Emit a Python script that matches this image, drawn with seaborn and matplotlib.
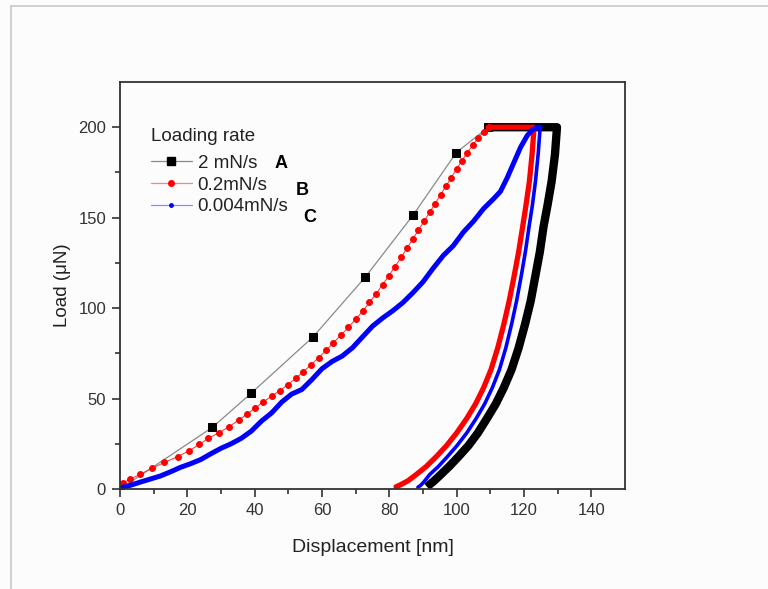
import numpy as np
import pandas as pd
import matplotlib
matplotlib.use("Agg")
import matplotlib.pyplot as plt
from matplotlib.lines import Line2D
import seaborn as sns

# ---------------- data ----------------
labels = ["2 mN/s", "0.2mN/s", "0.004mN/s"]
letters = ["A", "B", "C"]
legend_title = "Loading rate"

# A : 2 mN/s
a_load_x = [0, 27.4, 39.0, 57.3, 72.8, 87.1, 99.9, 109.4]
a_load_y = [0, 34.0, 53.0, 84.0, 117.0, 151.5, 186.0, 200.0]
a_unload_x = [109.4, 115, 120, 125, 129.8, 129.2, 128.2, 127.0, 125.8, 124.7, 123.4, 122.0,
              120.3, 118.4, 116.3, 114.0, 111.6, 109.0, 106.3, 103.5, 100.6, 97.8,
              95.3, 93.3, 92.0, 91.2]
a_unload_y = [200, 200, 200, 200, 200, 185, 170, 157, 145, 131, 118, 104,
              91, 78, 66, 56, 47, 39, 31, 24, 18, 12.5,
              8, 4.5, 2.5, 1.2]

# B : 0.2 mN/s
b_load_x = [0, 1, 3, 6, 9.4, 13.2, 17.1, 20.6, 23.6, 26.2, 29.4, 32.4, 35.2, 37.7, 40.0,
            42.6, 45.0, 47.4, 49.8, 52.2, 54.5, 56.8, 59.0, 61.2, 63.4, 65.6, 67.8, 70.0,
            72.1, 74.1, 76.1, 78.0, 79.9, 81.7, 83.5, 85.2, 86.9, 88.6, 90.3, 92.0, 93.6,
            95.2, 96.8, 98.4, 100.0, 101.6, 103.2, 104.8, 106.4, 108.0, 109.5]
b_load_y = [3.0, 3.5, 5.4, 8.1, 11.4, 14.7, 17.9, 21.2, 24.7, 28.0, 31.1, 34.4, 38.1, 41.3, 44.6,
            48.2, 51.3, 54.3, 57.6, 61.2, 64.9, 68.7, 72.6, 76.6, 80.8, 85.0, 89.3, 93.8,
            98.4, 103.2, 108.0, 113.0, 118.0, 123.0, 128.0, 133.0, 138.0, 143.0, 148.0, 153.0, 157.8,
            162.6, 167.4, 172.2, 177.0, 181.6, 186.0, 190.2, 194.0, 197.5, 200.0]
b_unload_x = [109.5, 115, 120, 123.0, 122.4, 121.6, 120.6, 119.6, 118.4, 117.1, 115.6, 114.0,
              112.2, 110.2, 108.0, 105.6, 103.0, 100.0, 97.0, 94.0, 91.0, 88.0, 85.5,
              83.5, 82.0]
b_unload_y = [200, 200, 200, 200, 185, 170, 157, 145, 131, 118, 104, 91,
              78, 66, 56, 47, 39, 31, 24, 18, 12.5, 8, 4.5,
              2.5, 1.2]

# C : 0.004 mN/s
c_load_x = [0, 3, 6, 9, 12, 15, 18, 21, 24, 27, 30, 33, 36, 39, 42, 45, 48, 51, 54, 57,
            60, 63, 66, 69, 72, 75, 78, 81, 84, 87, 90, 93, 96, 99, 102, 105, 108, 111,
            113, 115, 117, 119, 121, 122.5, 124.0, 124.8]
c_load_y = [0.5, 2.0, 3.8, 5.5, 7.2, 9.5, 12.0, 14.0, 16.3, 19.5, 22.5, 25.0, 28.0, 32.0,
            37.5, 42.0, 48.0, 52.5, 55.0, 60.5, 66.5, 70.5, 73.5, 78.0, 84.0, 90.0, 94.5,
            98.5, 103.0, 108.5, 114.5, 122.0, 129.0, 134.5, 142.0, 148.0, 155.0, 160.5,
            164.5, 172.0, 180.5, 189.0, 195.5, 198.5, 200.0, 200.0]
c_unload_x = [124.8, 124.2, 123.4, 122.5, 121.5, 120.4, 119.2, 117.8, 116.3, 114.6, 112.7,
              110.6, 108.3, 105.8, 103.0, 100.1, 97.3, 94.6, 92.0, 90.3, 89.3, 88.5]
c_unload_y = [200, 185, 170, 157, 145, 131, 118, 104, 91, 78, 66,
              56, 47, 39, 31, 24, 18, 12.5, 8, 4.0, 2.0, 1.0]

x_ticks = [0, 20, 40, 60, 80, 100, 120, 140]
y_ticks = [0, 50, 100, 150, 200]

# ---------------- style ----------------
sns.set_theme(style="ticks")
plt.rcParams["font.family"] = ["Liberation Sans", "DejaVu Sans"]
plt.rcParams["axes.edgecolor"] = "#333333"
plt.rcParams["xtick.color"] = "#333333"
plt.rcParams["ytick.color"] = "#333333"
plt.rcParams["text.color"] = "#222222"
plt.rcParams["axes.labelcolor"] = "#222222"

bg = "#fcfcfc"
fig = plt.figure(figsize=(7.68, 5.89), dpi=100, facecolor=bg)
ax = fig.add_axes([120 / 768, 1 - 489 / 589, 505 / 768, 407 / 589])
ax.set_facecolor(bg)

# screenshot frame lines
fig.add_artist(Line2D([10.5 / 768, 10.5 / 768], [0, 1 - 6 / 589], transform=fig.transFigure,
                      color="#c8c8c8", lw=1.2))
fig.add_artist(Line2D([10.5 / 768, 1], [1 - 6 / 589, 1 - 6 / 589], transform=fig.transFigure,
                      color="#c8c8c8", lw=1.2))

# A
sns.lineplot(x=a_unload_x, y=a_unload_y, ax=ax, sort=False, estimator=None,
             color="black", lw=6.0, solid_capstyle="butt", legend=False)
sns.lineplot(x=a_load_x, y=a_load_y, ax=ax, sort=False, estimator=None,
             color="#8a8a8a", lw=0.9, marker="s", markersize=6, markerfacecolor="black",
             markeredgecolor="black", legend=False)
# B
sns.lineplot(x=b_unload_x, y=b_unload_y, ax=ax, sort=False, estimator=None,
             color="#ff0000", lw=3.8, legend=False)
sns.lineplot(x=b_load_x, y=b_load_y, ax=ax, sort=False, estimator=None,
             color="#ff3030", lw=0.7, marker="o", markersize=4.2, markerfacecolor="#ff0000",
             markeredgecolor="#ff0000", legend=False)
# C
sns.lineplot(x=c_load_x, y=c_load_y, ax=ax, sort=False, estimator=None,
             color="#0000ff", lw=3.6, legend=False)
sns.lineplot(x=c_unload_x, y=c_unload_y, ax=ax, sort=False, estimator=None,
             color="#0000ff", lw=2.6, legend=False)

ax.set_xlim(0, 150)
ax.set_ylim(0, 225)
ax.set_xticks(x_ticks)
ax.set_yticks(y_ticks)
ax.set_xticks(np.arange(10, 150, 20), minor=True)
ax.set_yticks(np.arange(25, 225, 50), minor=True)
ax.tick_params(axis="both", which="major", direction="out", length=6, width=1.2,
               labelsize=12, top=False, right=False, pad=4)
ax.tick_params(axis="both", which="minor", direction="out", length=3.5, width=1.2,
               top=False, right=False)
for s in ax.spines.values():
    s.set_visible(True)
    s.set_linewidth(1.3)
    s.set_color("#333333")

ax.set_xlabel("Displacement [nm]", fontsize=14, labelpad=15)
ax.set_ylabel("Load (μN)", fontsize=13.5, labelpad=5)

# legend
handles = [
    Line2D([], [], color="#8a8a8a", lw=0.9, marker="s", markersize=6,
           markerfacecolor="black", markeredgecolor="black"),
    Line2D([], [], color="#f08a8a", lw=0.9, marker="o", markersize=4,
           markerfacecolor="#ff0000", markeredgecolor="#ff0000"),
    Line2D([], [], color="#8a8aff", lw=0.9, marker="o", markersize=2.5,
           markerfacecolor="#0000ff", markeredgecolor="#0000ff"),
]
ax.text(0.061, (489 - 141) / 407, legend_title, transform=ax.transAxes,
        fontsize=13.5, ha="left", va="baseline")
leg = ax.legend(handles, labels, loc="upper left",
                bbox_to_anchor=(0.061, 0.821), frameon=False, fontsize=13.5,
                handlelength=2.2, handletextpad=0.3,
                labelspacing=0.24, borderpad=0, borderaxespad=0)

letter_pos = [(47.9, 180.0), (54.2, 165.0), (56.5, 150.0)]
for (lx, ly), t in zip(letter_pos, letters):
    ax.text(lx, ly, t, fontsize=13, fontweight="bold", ha="center", va="center", color="black")

fig.savefig("out.png", dpi=100, facecolor=bg)
